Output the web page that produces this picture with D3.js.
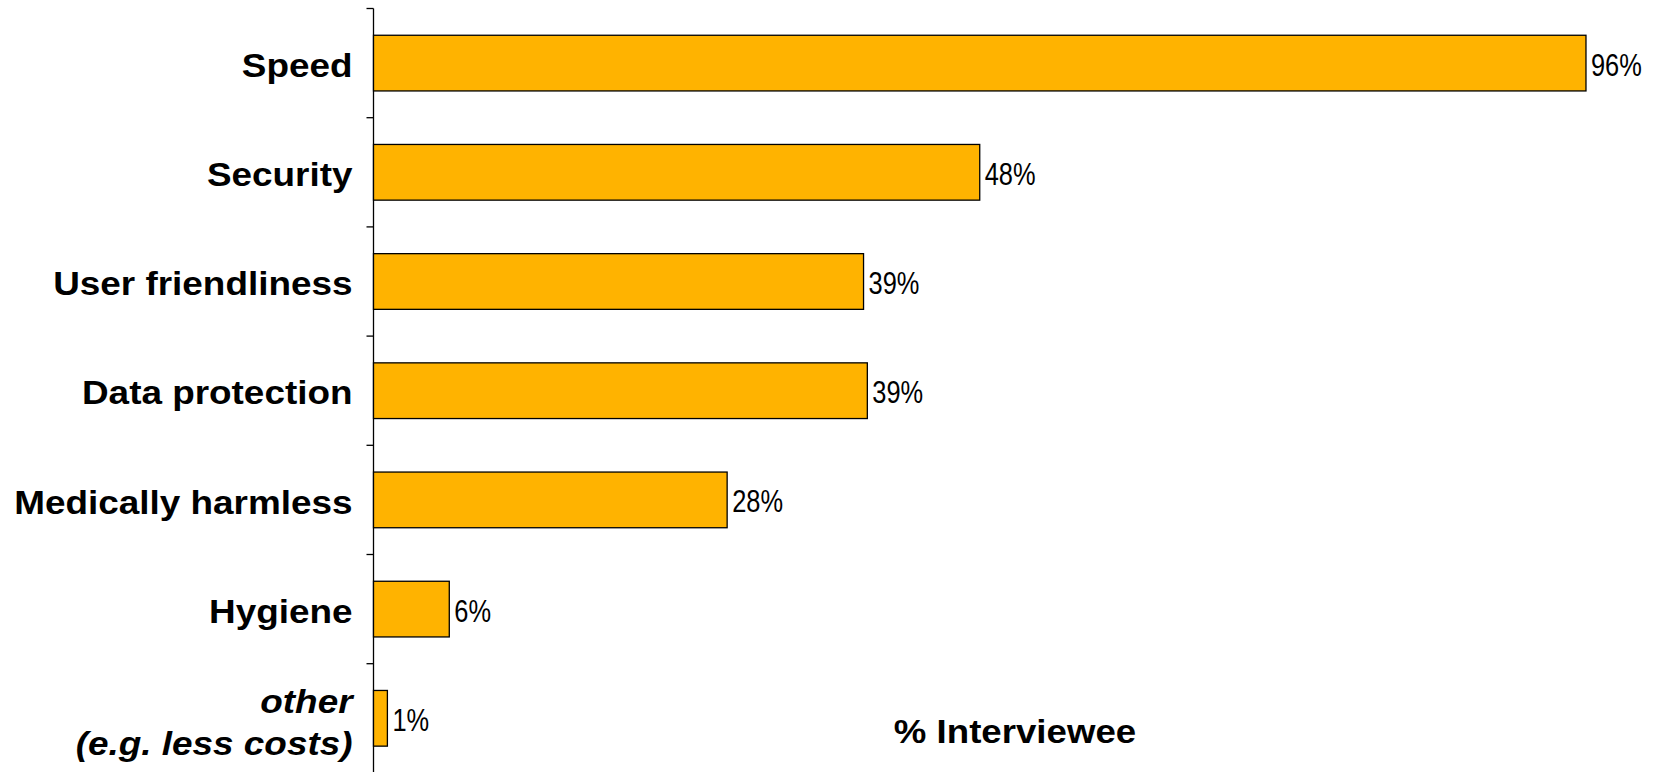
<!DOCTYPE html>
<html>
<head>
    <title></title>
    <script src="https://d3js.org/d3.v7.min.js"></script>
    <style>
        body { margin: 0; background: #fff; }
        svg { display: block; }
    </style>
</head>
<body>
    <svg id="chart" width="1659" height="772"></svg>
    <script>
    // data
    let categories = ["Speed", "Security", "User friendliness", "Data protection",
                      "Medically harmless", "Hygiene", "other\n(e.g. less costs)"];
    let values = [96, 48, 38.8, 39.1, 28, 6, 1.1];
    let italicCats = ["other\n(e.g. less costs)"];
    let axisTitle = "% Interviewee";

    let rows = categories.map((c, i) => ({ cat: c, val: values[i] }));

    let svg = d3.select("#chart");

    let x = d3.scaleLinear().domain([0, 100]).range([373.5, 1636.5]);
    let y = d3.scaleBand().domain(categories)
              .range([8.5, 8.5 + 7 * 109.2])
              .paddingInner(0.49).paddingOuter(0.245);
    let edge = y.step() * 0.245;

    // vertical axis with ticks on the band boundaries
    svg.append("line")
       .attr("x1", x(0)).attr("x2", x(0))
       .attr("y1", y.range()[0]).attr("y2", 772)
       .attr("stroke", "#000").attr("stroke-width", 1.3);
    svg.selectAll("line.tick").data(categories).enter().append("line")
       .attr("class", "tick")
       .attr("x1", x(0) - 7).attr("x2", x(0))
       .attr("y1", d => y(d) - edge).attr("y2", d => y(d) - edge)
       .attr("stroke", "#000").attr("stroke-width", 1.3);

    // bars
    svg.selectAll("rect.bar").data(rows).enter().append("rect")
       .attr("class", "bar")
       .attr("x", x(0))
       .attr("y", d => y(d.cat))
       .attr("width", d => x(d.val) - x(0))
       .attr("height", y.bandwidth())
       .attr("fill", "#FFB300")
       .attr("stroke", "#000").attr("stroke-width", 1.3);

    // value labels (narrow face)
    svg.selectAll("text.val").data(rows).enter().append("text")
       .attr("class", "val")
       .attr("transform", d => "translate(" + (x(d.val) + 5) + "," + (y(d.cat) + y.bandwidth() / 2) + ") scale(0.82,1)")
       .attr("dy", "0.4em")
       .attr("font-family", "Liberation Sans, Arial, sans-serif")
       .attr("font-size", 31)
       .attr("fill", "#000")
       .text(d => d3.format(".0f")(d.val) + "%");

    // category labels
    let lab = svg.selectAll("g.lab").data(categories).enter().append("g")
       .attr("class", "lab")
       .attr("transform", d => "translate(" + (x(0) - 21) + "," + (y(d) + y.bandwidth() / 2) + ") scale(1.085,1)");
    lab.append("text")
       .attr("text-anchor", "end")
       .attr("font-family", "Liberation Sans, Arial, sans-serif")
       .attr("font-weight", "bold")
       .attr("font-style", d => italicCats.includes(d) ? "italic" : "normal")
       .attr("font-size", 34)
       .attr("fill", "#000")
       .each(function(d) {
           let lines = d.split("\n");
           let t = d3.select(this);
           lines.forEach((s, i) => {
               t.append("tspan")
                .attr("x", 0)
                .attr("dy", i === 0 ? (0.4 - (lines.length - 1) * 0.55) + "em" : "1.24em")
                .text(s);
           });
       });

    // axis title
    svg.append("text")
       .attr("transform", "translate(1015,743) scale(1.11,1)")
       .attr("text-anchor", "middle")
       .attr("font-family", "Liberation Sans, Arial, sans-serif")
       .attr("font-weight", "bold")
       .attr("font-size", 33)
       .attr("fill", "#000")
       .text(axisTitle);
    </script>
</body>
</html>
